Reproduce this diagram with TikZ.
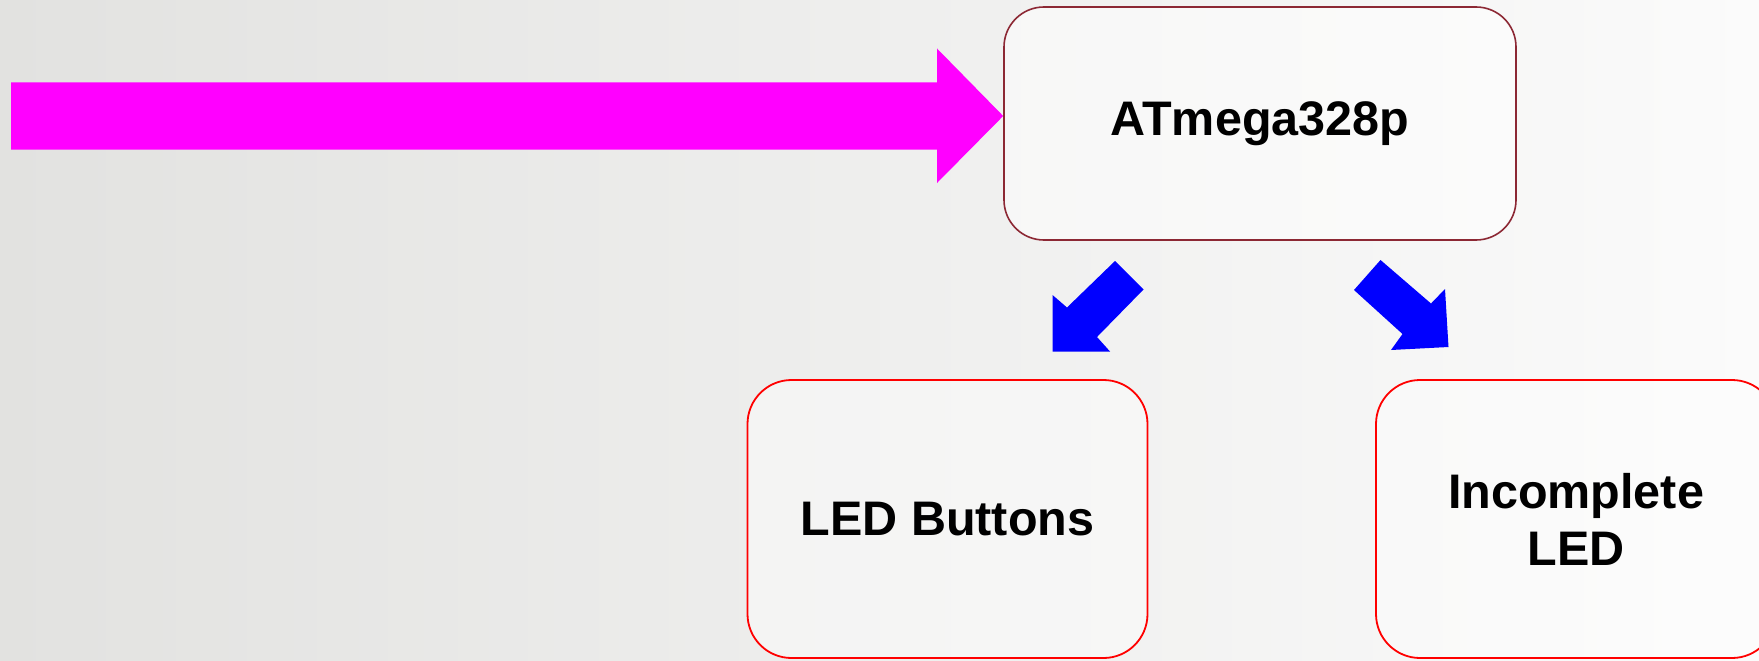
\documentclass[tikz,border=0pt]{standalone}
\usepackage{fontspec}
\setmainfont{Liberation Sans}
\definecolor{bgleft}{RGB}{226,226,224}
\definecolor{bgright}{RGB}{251,251,251}
\definecolor{topframe}{RGB}{140,40,52}
\definecolor{boxred}{RGB}{255,0,0}
\definecolor{magentaarrow}{RGB}{255,0,255}
\definecolor{bluearrow}{RGB}{0,0,255}
\tikzset{
  mainbox/.style={draw=topframe, line width=1.6pt, rounded corners=40pt, fill=white, fill opacity=0.5, text opacity=1,
    minimum width=512pt, minimum height=233pt, inner sep=0pt, align=center,
    font=\fontsize{48.5}{57}\selectfont\bfseries},
  subbox/.style={draw=boxred, line width=1.8pt, rounded corners=44pt, fill=white, fill opacity=0.4, text opacity=1,
    minimum width=400pt, minimum height=278pt, inner sep=0pt, align=center,
    font=\fontsize{48.5}{57}\selectfont\bfseries},
  blockarrow/.style={fill=#1, draw=none},
}
\begin{document}
\begin{tikzpicture}[x=1pt,y=-1pt]
\useasboundingbox (0,0) rectangle (1759,661);
\begin{scope}
\clip (0,0) rectangle (1759,661);
\shade[left color=bgleft, right color=bgright] (0,0) rectangle (1759,661);
\node[mainbox] (mcu) at (1260,123.5) {\raisebox{-3pt}{ATmega328p}};
\node[subbox] (btn) at (947.5,519) {LED Buttons};
\node[subbox] (inc) at (1576,519) {Incomplete\\LED};
% magenta input arrow, tip on the west side of the microcontroller box
\coordinate (tip) at ([yshift=7.5pt]mcu.west);
\fill[blockarrow=magentaarrow] (11,82.5) -- (937,82.5) -- (937,48.5) -- (tip) -- (937,183) -- (937,149.5) -- (11,149.5) -- cycle;
% blue arrow to LED Buttons
\fill[blockarrow=bluearrow] (1115,261) -- (1143.5,289.5) -- (1097,337) -- (1110,351.5) -- (1052.5,351.5) -- (1052.5,295) -- (1067,307.5) -- cycle;
% blue arrow to Incomplete LED
\fill[blockarrow=bluearrow] (1380.5,260) -- (1431,303.5) -- (1445,289) -- (1448.5,347) -- (1391,350) -- (1402.5,334) -- (1354,290) -- cycle;
\end{scope}
\end{tikzpicture}
\end{document}
